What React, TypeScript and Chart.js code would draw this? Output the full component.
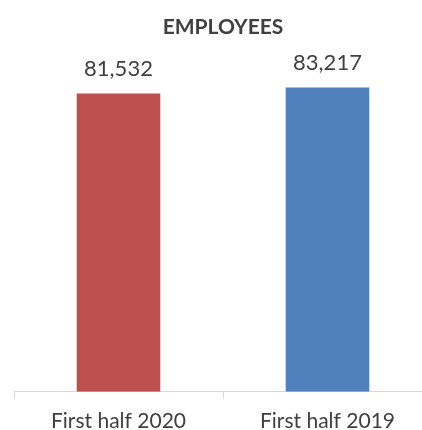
import React, { useEffect, useRef } from "react";
import { Chart, registerables } from "chart.js";

Chart.register(...registerables);

const categories = ["First half 2020", "First half 2019"];
const employees = [81532, 83217];
const barColors = ["#C0504D", "#4F81BD"];
const titleText = "EMPLOYEES";

const FONT = "Lato, 'Open Sans', sans-serif";

const valueLabels = {
  id: "valueLabels",
  afterDatasetsDraw(chart: any) {
    const ctx = chart.ctx;
    const meta = chart.getDatasetMeta(0);
    ctx.save();
    ctx.font = `22px ${FONT}`;
    ctx.fillStyle = "#404040";
    ctx.textAlign = "center";
    ctx.textBaseline = "middle";
    meta.data.forEach((bar: any, i: number) => {
      ctx.fillText(employees[i].toLocaleString("en-US"), bar.x, bar.y - 25);
    });
    ctx.restore();
  },
};

export default function App() {
  const ref = useRef<HTMLCanvasElement | null>(null);
  useEffect(() => {
    document.body.style.margin = "0";
    const chart = new Chart(ref.current!, {
      type: "bar",
      data: {
        labels: categories,
        datasets: [
          {
            data: employees,
            backgroundColor: barColors,
            categoryPercentage: 1,
            barPercentage: 0.4,
          },
        ],
      },
      options: {
        responsive: false,
        animation: false,
        layout: { padding: { left: 14, right: 0, top: 0, bottom: 0 } },
        plugins: {
          legend: { display: false },
          tooltip: { enabled: false },
          title: {
            display: true,
            text: titleText,
            color: "#404040",
            font: { family: FONT, size: 21, weight: "bold" },
            padding: { top: 15, bottom: 10 },
          },
        },
        scales: {
          y: { display: false, min: 0, max: 93400 },
          x: {
            offset: true,
            grid: {
              display: true,
              drawOnChartArea: false,
              drawTicks: true,
              tickLength: 7,
              color: "#D9D9D9",
              offset: true,
            },
            border: { display: true, color: "#D9D9D9", width: 1 },
            ticks: {
              color: "#404040",
              padding: 10,
              font: { family: FONT, size: 21 },
            },
          },
        },
      },
      plugins: [valueLabels],
    });
    return () => chart.destroy();
  }, []);
  return (
    <div style={{ width: 422, height: 430, overflow: "hidden", position: "relative" }}>
      <canvas ref={ref} width={432} height={444} style={{ display: "block" }} />
    </div>
  );
}
